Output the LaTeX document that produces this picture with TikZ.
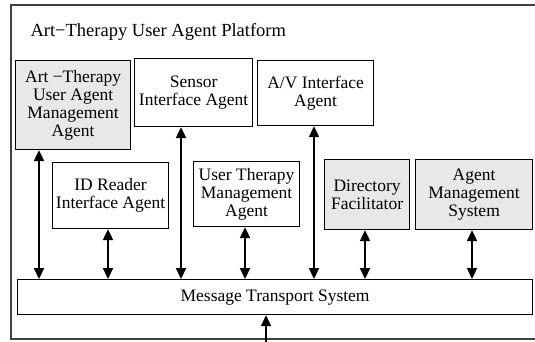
\documentclass[tikz,border=0pt]{standalone}
\usepackage{fontspec}
\setmainfont{Liberation Serif}
\usetikzlibrary{arrows.meta}
\tikzset{
  agent/.style={draw, line width=1.2pt, anchor=north west, align=center,
    inner sep=0pt, font=\fontsize{17.5}{18}\selectfont},
  shaded/.style={agent, fill=black!9},
  link/.style={line width=2.2pt, {Triangle[width=10pt,length=11pt]}-{Triangle[width=10pt,length=11pt]}},
  uplink/.style={line width=2.2pt, -{Triangle[width=10pt,length=11pt]}}
}
\begin{document}
\begin{tikzpicture}[x=1pt,y=-1pt]
\useasboundingbox (0,0) rectangle (535,341);
% platform frame, open on the right
\draw[line width=1.2pt, black!75] (536,5) -- (11,5) -- (11,339) -- (536,339);
\node[anchor=base west, font=\fontsize{18.5}{18}\selectfont] (title) at (27,36) {Art−Therapy User Agent Platform};

% agents
\node[shaded, minimum width=115pt, minimum height=89pt] (uam) at (15,60) {Art −Therapy\\User Agent\\Management\\Agent};
\node[agent, minimum width=118pt, minimum height=68pt] (sensor) at (134,58) {Sensor\\Interface Agent};
\node[agent, minimum width=116pt, minimum height=65pt] (av) at (257,60) {A/V Interface\\Agent};
\node[agent, minimum width=116pt, minimum height=66pt] (idr) at (52,162) {ID Reader\\Interface Agent};
\node[agent, minimum width=106pt, minimum height=65pt] (utm) at (193,161) {User Therapy\\Management\\Agent};
\node[shaded, minimum width=85pt, minimum height=70pt] (df) at (324,159) {Directory\\Facilitator};
\node[shaded, minimum width=117pt, minimum height=70pt] (ams) at (415,159) {Agent\\Management\\System};
\node[agent, minimum width=515pt, minimum height=35pt] (mts) at (17,279) {Message Transport System};

% connections to the transport system
\coordinate (c1) at (39,0);
\coordinate (c2) at (108,0);
\coordinate (c3) at (181,0);
\coordinate (c4) at (245,0);
\coordinate (c5) at (314,0);
\coordinate (c6) at (365,0);
\coordinate (c7) at (472,0);
\draw[link] (uam.south -| c1) -- (mts.north -| c1);
\draw[link] (idr.south -| c2) -- (mts.north -| c2);
\draw[link] (sensor.south -| c3) -- (mts.north -| c3);
\draw[link] (utm.south -| c4) -- (mts.north -| c4);
\draw[link] (av.south -| c5) -- (mts.north -| c5);
\draw[link] (df.south -| c6) -- (mts.north -| c6);
\draw[link] (ams.south -| c7) -- (mts.north -| c7);
\coordinate (ext) at (266,342);
\draw[uplink] (ext) -- (mts.south -| ext);
\end{tikzpicture}
\end{document}
